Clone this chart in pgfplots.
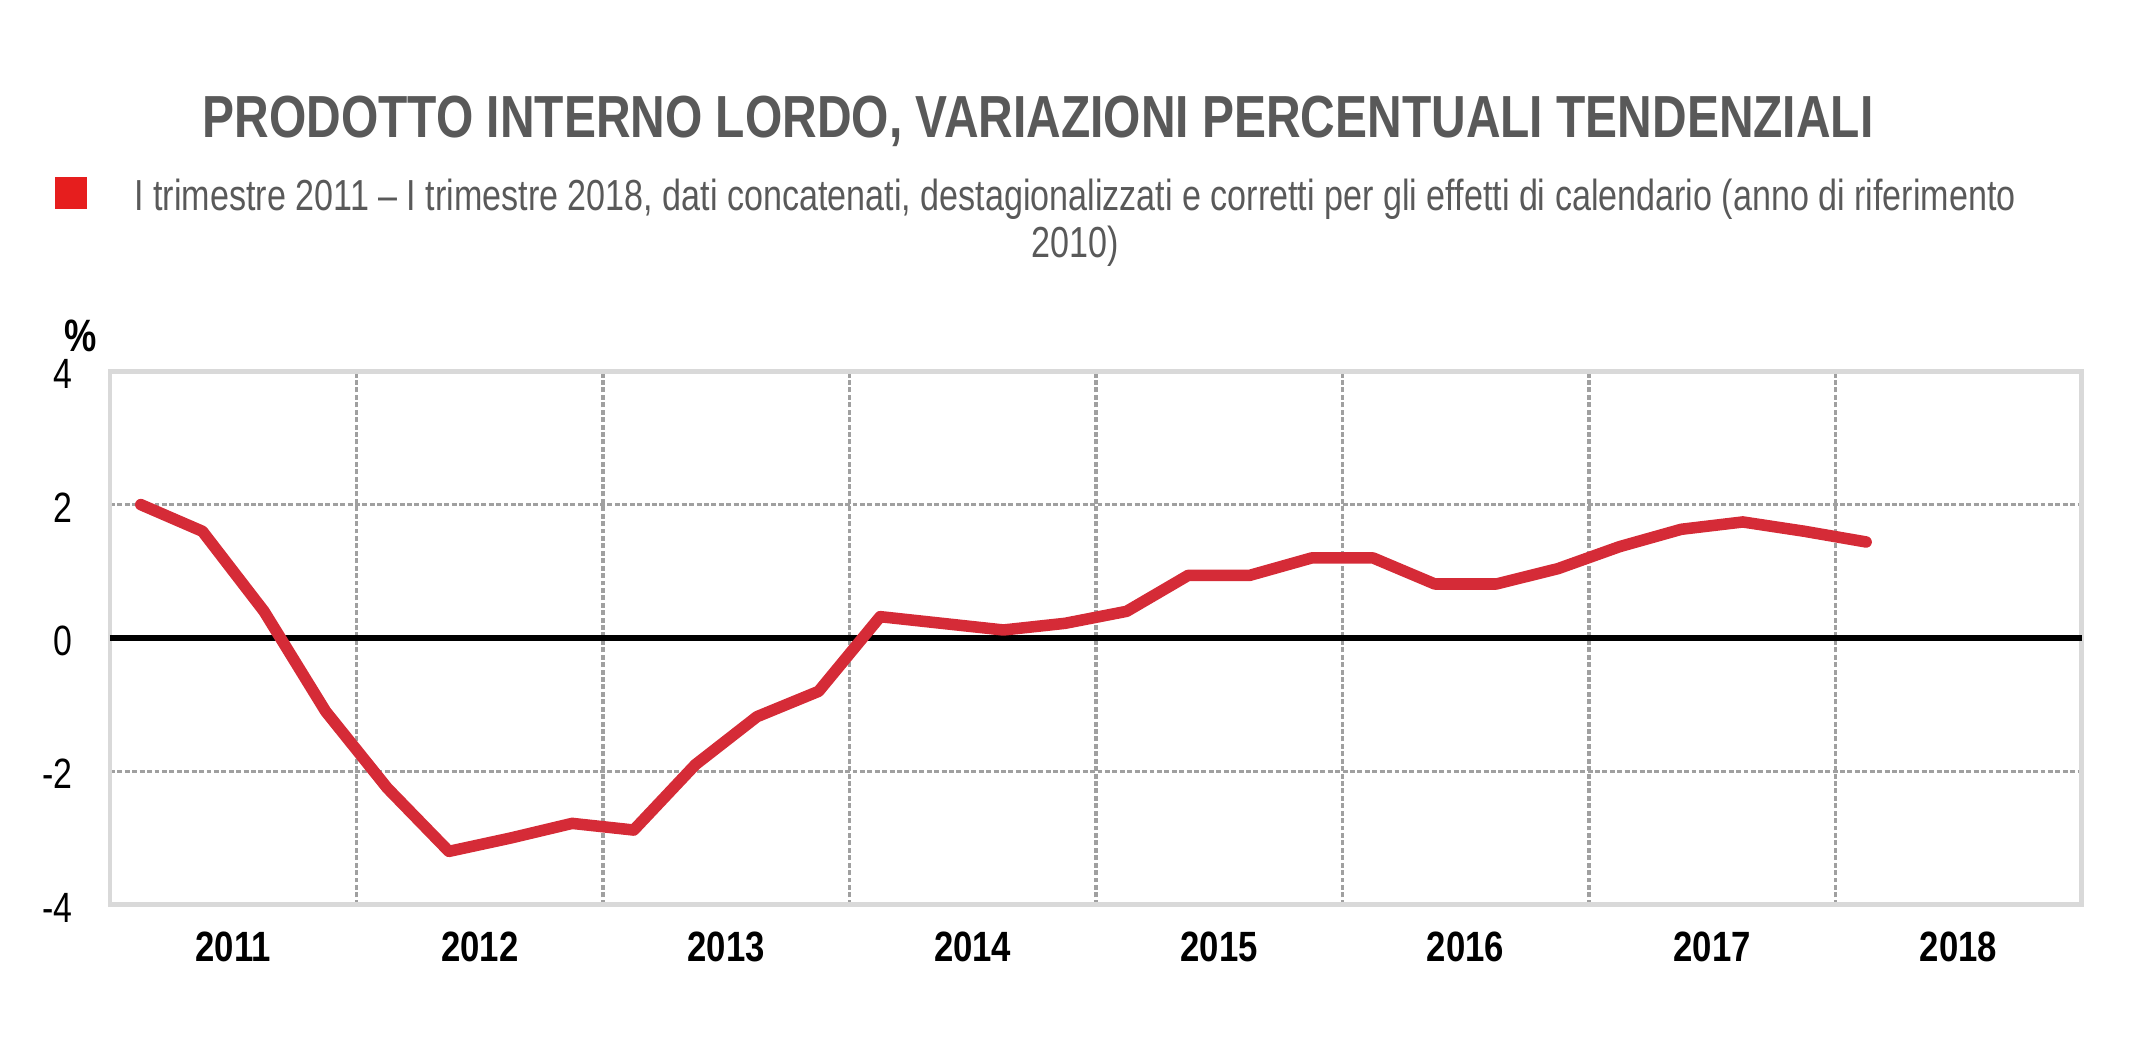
\documentclass[border=0pt]{standalone}
\usepackage{fontspec}
\usepackage{pgfplots}
\pgfplotsset{compat=1.18}
\setmainfont{Liberation Sans}
\newfontfamily\titlefont[FakeStretch=0.807]{Liberation Sans}
\newfontfamily\legfont[FakeStretch=0.785]{Liberation Sans}
\newfontfamily\tickfont[FakeStretch=0.8]{Liberation Sans}
\newfontfamily\yearfont[FakeStretch=0.82]{Liberation Sans}

\definecolor{gdp}{RGB}{213,43,55}
\definecolor{legred}{RGB}{230,30,30}
\definecolor{titlegray}{RGB}{89,89,89}
\definecolor{framegray}{RGB}{217,217,217}
\definecolor{gridgray}{RGB}{160,160,160}

\pgfplotstableread{
x y
0.5 2.0
1.5 1.6
2.5 0.4
3.5 -1.1
4.5 -2.25
5.5 -3.2
6.5 -3.0
7.5 -2.78
8.5 -2.88
9.5 -1.9
10.5 -1.18
11.5 -0.8
12.5 0.32
13.5 0.22
14.5 0.12
15.5 0.22
16.5 0.4
17.5 0.94
18.5 0.94
19.5 1.2
20.5 1.2
21.5 0.81
22.5 0.81
23.5 1.04
24.5 1.37
25.5 1.63
26.5 1.74
27.5 1.6
28.5 1.44
}\gdpdata

\begin{document}
\begin{tikzpicture}
\useasboundingbox (0,0) rectangle (784pt,379pt);
\node[font=\titlefont\bfseries\fontsize{21.6}{26}\selectfont, text=titlegray, inner sep=0pt] at (377.5pt,335pt) {PRODOTTO INTERNO LORDO, VARIAZIONI PERCENTUALI TENDENZIALI};
\fill[legred] (20pt,303pt) rectangle (31.5pt,314.5pt);
\node[font=\legfont\fontsize{15.8}{17}\selectfont, text=titlegray, align=center, inner sep=0pt] at (391pt,298pt) {I trimestre 2011 – I trimestre 2018, dati concatenati, destagionalizzati e corretti per gli effetti di calendario (anno di riferimento\\2010)};
\node[font=\tickfont\bfseries\fontsize{16.5}{16.5}\selectfont, inner sep=0pt] at (29.5pt,257pt) {\%};
\begin{axis}[
  at={(40pt,50pt)}, anchor=south west,
  scale only axis, width=717pt, height=194pt,
  xmin=0, xmax=32, ymin=-4, ymax=4,
  ytick={-4,-2,0,2,4},
  xtick={2,6,10,14,18,22,26,30},
  xticklabels={2011,2012,2013,2014,2015,2016,2017,2018},
  minor xtick={4,8,12,16,20,24,28},
  xminorgrids, ymajorgrids,
  major tick length=0pt, minor tick length=0pt,
  axis line style={framegray, line width=1.8pt},
  minor grid style={gridgray, line width=1.3pt, dash pattern=on 1.8pt off 0.9pt},
  major grid style={gridgray, line width=1.3pt, dash pattern=on 1.8pt off 0.9pt},
  /pgf/number format/assume math mode=true,
  yticklabel style={font=\tickfont\fontsize{15.4}{15.4}\selectfont, inner sep=0pt, anchor=east, xshift=-13.5pt, yshift=-1pt},
  xticklabel style={font=\yearfont\bfseries\fontsize{15.4}{16}\selectfont, inner sep=0pt, anchor=center, yshift=-15.3pt},
]
\addplot[black, line width=2pt, forget plot] coordinates {(0,0) (32,0)};
\addplot[gdp, line width=4.2pt, line join=round, line cap=round] table[x=x, y=y] {\gdpdata};
\end{axis}
\end{tikzpicture}
\end{document}
